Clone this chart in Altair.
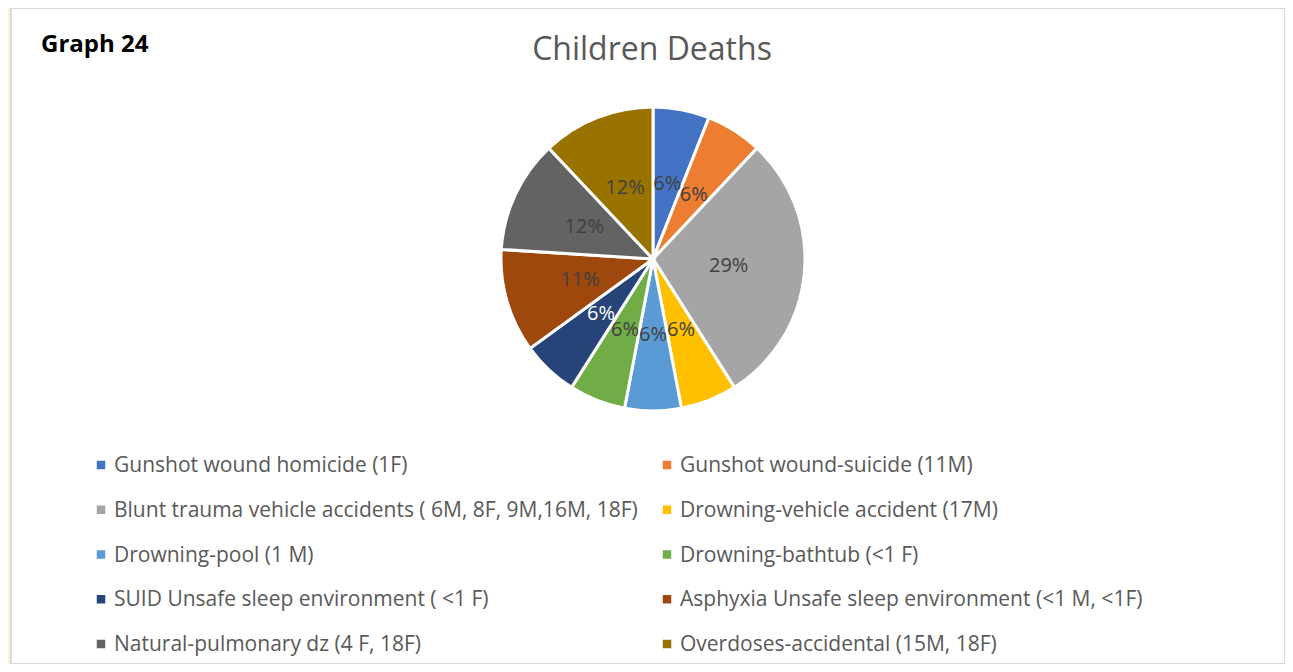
import altair as alt
import pandas as pd

categories = [
    "Gunshot wound homicide (1F)",
    "Gunshot wound-suicide (11M)",
    "Blunt trauma vehicle accidents ( 6M, 8F, 9M,16M, 18F)",
    "Drowning-vehicle accident (17M)",
    "Drowning-pool (1 M)",
    "Drowning-bathtub (<1 F)",
    "SUID Unsafe sleep environment ( <1 F)",
    "Asphyxia Unsafe sleep environment (<1 M, <1F)",
    "Natural-pulmonary dz (4 F, 18F)",
    "Overdoses-accidental  (15M, 18F)",
]
values = [6, 6, 29, 6, 6, 6, 6, 11, 12, 12]
labels = ["6%", "6%", "29%", "6%", "6%", "6%", "6%", "11%", "12%", "12%"]
colors = ["#4472C4", "#ED7D31", "#A5A5A5", "#FFC000", "#5B9BD5",
          "#70AD47", "#264478", "#9E480E", "#636363", "#997300"]
label_colors = ["#404040"] * 6 + ["#FFFFFF"] + ["#404040"] * 3

df = pd.DataFrame({
    "cat": categories,
    "value": values,
    "label": labels,
    "lc": label_colors,
    "idx": list(range(len(categories))),
})
df["col"] = df["idx"] % 2
df["row"] = df["idx"] // 2

FONT = "Open Sans"
CX, CY, R = 642, 251, 152

color = alt.Color("cat:N", scale=alt.Scale(domain=categories, range=colors), legend=None)

base = alt.Chart(df)

pie = base.mark_arc(outerRadius=R, stroke="white", strokeWidth=3).encode(
    theta=alt.Theta("value:Q", stack=True),
    order=alt.Order("idx:Q"),
    color=color,
    x=alt.value(CX), y=alt.value(CY),
)

pct = base.mark_text(radius=76, font=FONT, fontSize=20).encode(
    theta=alt.Theta("value:Q", stack=True),
    order=alt.Order("idx:Q"),
    text="label:N",
    color=alt.Color("lc:N", scale=None),
    x=alt.value(CX), y=alt.value(CY),
)

xs = alt.X("col:Q", scale=alt.Scale(domain=[0, 1], range=[90, 656]), axis=None)
ys = alt.Y("row:Q", scale=alt.Scale(domain=[0, 4], range=[457, 636]), axis=None)

leg_sym = base.mark_square(size=72, opacity=1).encode(x=xs, y=ys, color=color)
leg_txt = base.mark_text(align="left", baseline="middle", dx=13, dy=1, font=FONT,
                         fontSize=21, color="#595959").encode(x=xs, y=ys, text="cat:N")

title_df = pd.DataFrame({"t": ["Children Deaths"]})
title = alt.Chart(title_df).mark_text(font=FONT, fontSize=32, color="#595959",
                                      baseline="middle").encode(
    x=alt.value(641), y=alt.value(42), text="t:N")

g_df = pd.DataFrame({"t": ["Graph 24"]})
graph = alt.Chart(g_df).mark_text(font=FONT, fontSize=24, fontWeight="bold",
                                  color="#000000", align="left", baseline="middle").encode(
    x=alt.value(30), y=alt.value(37), text="t:N")

chart = alt.layer(pie, pct, leg_sym, leg_txt, title, graph).properties(
    width=1274, height=656,
    padding={"left": 3, "top": 0, "right": 0, "bottom": 0},
    autosize=alt.AutoSizeParams(type="none"),
    background="#FFF2CC",
).configure_view(fill="white", stroke="#D9D9D9", strokeWidth=2)

chart.save("out.html", embed_options={"renderer": "svg", "actions": False})
